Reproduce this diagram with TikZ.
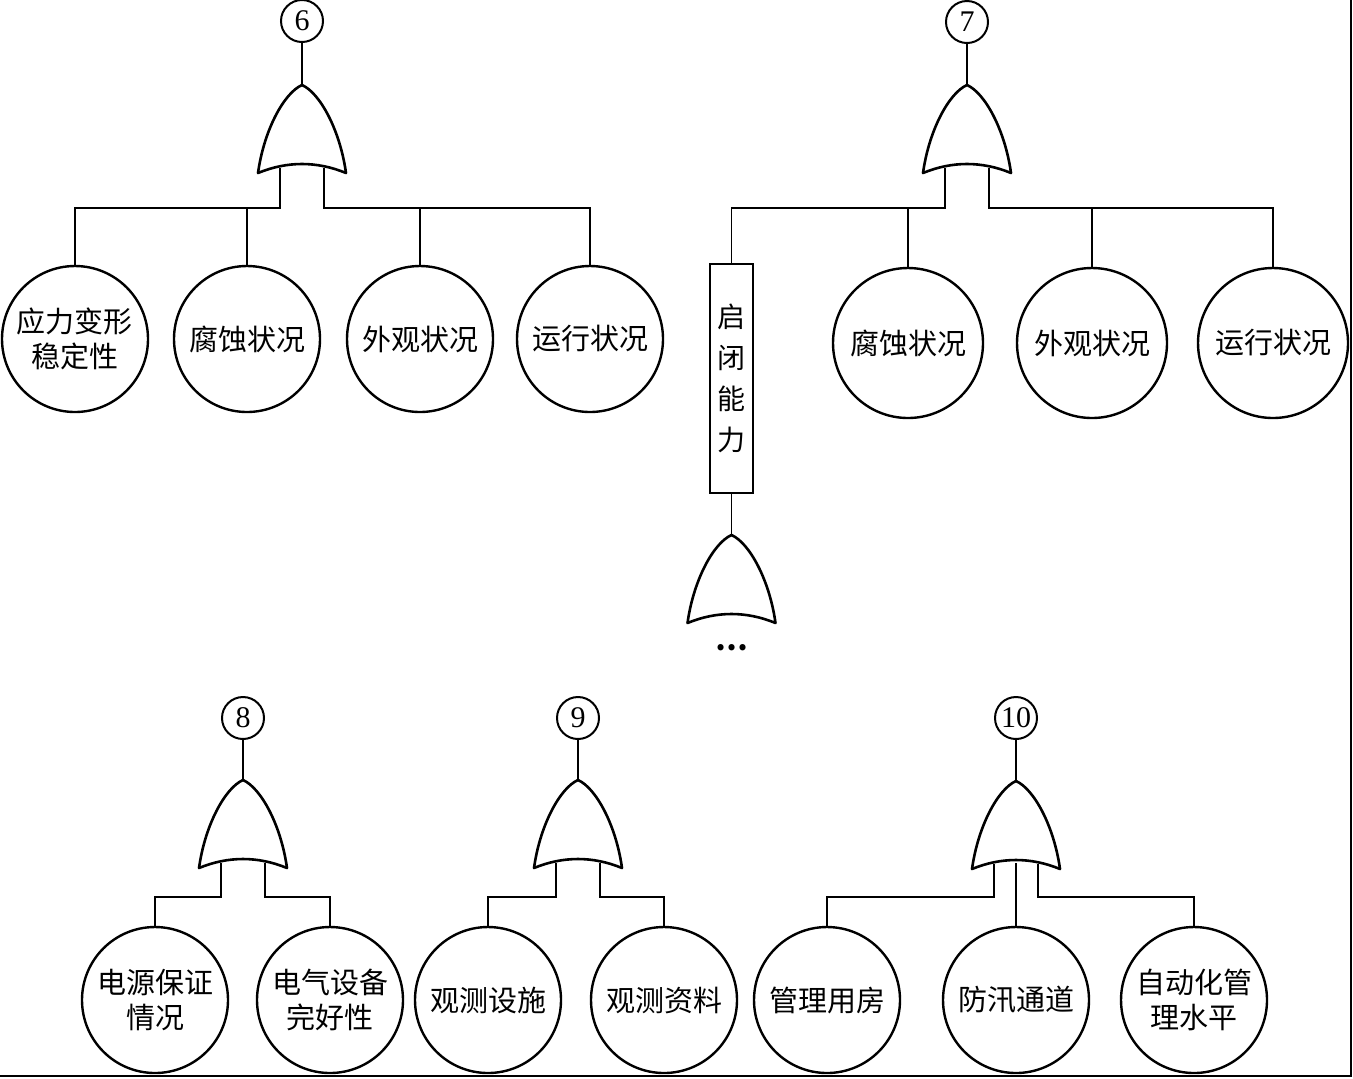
\documentclass[tikz,border=0pt]{standalone}
\usepackage{fontspec}
\setmainfont{Liberation Serif}
\newfontfamily\cjk{Noto Sans CJK SC}
\tikzset{
  evt/.style={draw,circle,line width=1.2pt,minimum size=73pt,inner sep=0pt,align=center,
              font=\cjk\fontsize{14.5}{17.5}\selectfont},
  num/.style={draw,circle,line width=1pt,minimum size=21pt,inner sep=0pt,
              font=\fontsize{15}{15}\selectfont},
  midbox/.style={draw,line width=1.2pt,minimum width=21.5pt,minimum height=114.5pt,
              inner sep=0pt,align=center,font=\cjk\fontsize{14}{20.5}\selectfont},
  gate/.style={draw,line width=1.3pt,fill=white,line join=round},
  ln/.style={line width=0.8pt},
  orgate/.pic={
    \draw[gate] (-44,88) .. controls (-38,45) and (-18,8) .. (0,0)
      .. controls (18,8) and (38,45) .. (44,88)
      .. controls (15,76) and (-15,76) .. cycle;
    \coordinate (-top) at (0,0);
    \coordinate (-l) at (-22,83);
    \coordinate (-m) at (0,82);
    \coordinate (-r) at (22,83);
  },
}
\begin{document}
\begin{tikzpicture}[x=0.5pt,y=-0.5pt]
  \useasboundingbox (0,0) rectangle (1353,1078);
  \draw[ln] (1351,0) -- (1351,1076) -- (0,1076);
  % top left: 6
  \node[num] (n6) at (302,21) {6};
  \pic (g6) at (302,85) {orgate};
  \coordinate (b6) at (302,208);
  \node[evt] (c61) at (75,339)  {应力变形\\稳定性};
  \node[evt] (c62) at (247,339) {腐蚀状况};
  \node[evt] (c63) at (420,339) {外观状况};
  \node[evt] (c64) at (590,339) {运行状况};
  \draw[ln] (n6) -- (g6-top);
  \draw[ln] (g6-l) -- (g6-l |- b6) -| (c61.north);
  \draw[ln] (g6-r) -- (g6-r |- b6) -| (c64.north);
  \draw[ln] (c62.north) -- (c62.north |- b6);
  \draw[ln] (c63.north) -- (c63.north |- b6);
  % top right: 7
  \node[num] (n7) at (967,22) {7};
  \pic (g7) at (967,85) {orgate};
  \coordinate (b7) at (967,208);
  \node[midbox] (qb) at (731.5,378.5) {启\\闭\\能\\力};
  \node[evt,minimum size=75pt] (c72) at (908,343)  {腐蚀状况};
  \node[evt,minimum size=75pt] (c73) at (1092,343) {外观状况};
  \node[evt,minimum size=75pt] (c74) at (1273,343) {运行状况};
  \draw[ln] (n7) -- (g7-top);
  \draw[ln] (g7-l) -- (g7-l |- b7) -| (qb.north);
  \draw[ln] (g7-r) -- (g7-r |- b7) -| (c74.north);
  \draw[ln] (c72.north) -- (c72.north |- b7);
  \draw[ln] (c73.north) -- (c73.north |- b7);
  \pic (g11) at (731.5,535) {orgate};
  \draw[ln] (qb.south) -- (g11-top);
  \node[font=\cjk\fontsize{14.5}{14.5}\selectfont\bfseries] (dots) at (731.5,648) {…};
  % bottom: 8
  \node[num] (n8) at (243,718) {8};
  \pic (g8) at (243,780) {orgate};
  \coordinate (b8) at (243,897);
  \node[evt] (c81) at (155,1000) {电源保证\\情况};
  \node[evt] (c82) at (330,1000) {电气设备\\完好性};
  \draw[ln] (n8) -- (g8-top);
  \draw[ln] (g8-l) -- (g8-l |- b8) -| (c81.north);
  \draw[ln] (g8-r) -- (g8-r |- b8) -| (c82.north);
  % bottom: 9
  \node[num] (n9) at (578,718) {9};
  \pic (g9) at (578,780) {orgate};
  \coordinate (b9) at (578,897);
  \node[evt] (c91) at (488,1000) {观测设施};
  \node[evt] (c92) at (664,1000) {观测资料};
  \draw[ln] (n9) -- (g9-top);
  \draw[ln] (g9-l) -- (g9-l |- b9) -| (c91.north);
  \draw[ln] (g9-r) -- (g9-r |- b9) -| (c92.north);
  % bottom: 10
  \node[num] (n10) at (1016,718) {10};
  \pic (g10) at (1016,781) {orgate};
  \coordinate (b10) at (1016,897);
  \node[evt] (c101) at (827,1000)  {管理用房};
  \node[evt] (c102) at (1016,1000) {防汛通道};
  \node[evt] (c103) at (1194,1000) {自动化管\\理水平};
  \draw[ln] (n10) -- (g10-top);
  \draw[ln] (g10-l) -- (g10-l |- b10) -| (c101.north);
  \draw[ln] (g10-r) -- (g10-r |- b10) -| (c103.north);
  \draw[ln] (g10-m) -- (c102.north);
\end{tikzpicture}
\end{document}
